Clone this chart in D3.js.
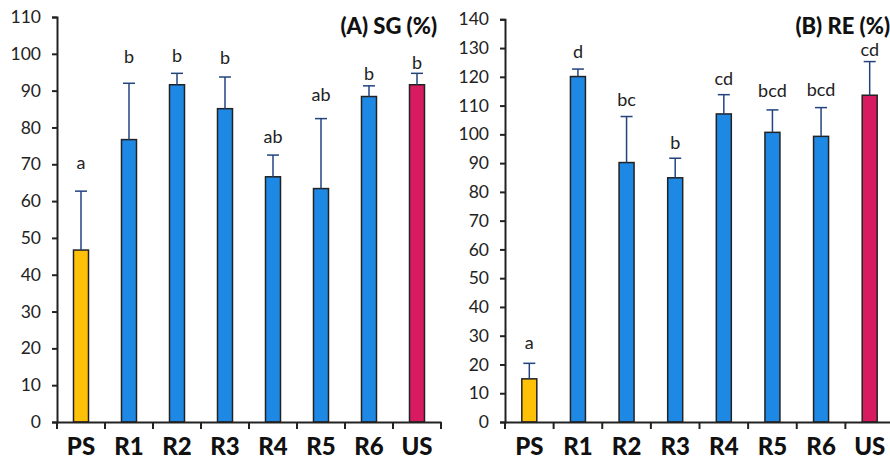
<!DOCTYPE html>
<html>
<head>
<meta charset="utf-8">
<script src="https://cdn.jsdelivr.net/npm/d3@7"></script>
<style>
  html, body { margin: 0; padding: 0; background: #fff; }
  svg { display: block; }
  text { font-family: Lato, "Open Sans", sans-serif; }
</style>
</head>
<body>
<svg id="chart" width="890" height="466"></svg>
<script>
// Treatment groups
const categories = ["PS", "R1", "R2", "R3", "R4", "R5", "R6", "US"];
const groupKind = ["ps", "r", "r", "r", "r", "r", "r", "us"];

// (A) SG (%)
const sgMean = [46.7, 76.7, 91.6, 85.1, 66.6, 63.4, 88.4, 91.6];
const sgError = [16.0, 15.3, 3.1, 8.6, 5.9, 19.0, 2.9, 3.1];
const sgLetters = ["a", "b", "b", "b", "ab", "ab", "b", "b"];
const sgLetterAt = [68.7, 97.4, 97.8, 97.2, 75.8, 87.2, 92.9, 95.9];
const sgTicks = [0, 10, 20, 30, 40, 50, 60, 70, 80, 90, 100, 110];

// (B) RE (%)
const reMean = [15.0, 120.1, 90.2, 84.9, 107.1, 100.7, 99.3, 113.6];
const reError = [5.4, 2.6, 16.0, 6.8, 6.7, 7.8, 10.0, 11.7];
const reLetters = ["a", "d", "bc", "b", "cd", "bcd", "bcd", "cd"];
const reLetterAt = [25.4, 126.7, 109.9, 95.0, 117.2, 112.9, 113.4, 127.3];
const reTicks = [0, 10, 20, 30, 40, 50, 60, 70, 80, 90, 100, 110, 120, 130, 140];

const fills = { ps: "#FFC107", r: "#1E88E5", us: "#D81B60" };
const errColor = "#23437f";

const svg = d3.select("#chart");

function panel(opts) {
  const { x0, x1, yTop, yBottom, yMax, ticks, mean, err, letters, letterAt, title } = opts;
  const g = svg.append("g");

  const x = d3.scaleBand().domain(categories).range([x0, x1]).paddingInner(0).paddingOuter(0);
  const y = d3.scaleLinear().domain([0, yMax]).range([yBottom, yTop]);
  const barW = 15;

  // y axis
  const yAxis = g.append("g")
    .attr("transform", `translate(${x0},0)`)
    .call(d3.axisLeft(y).tickValues(ticks).tickSize(5).tickPadding(11).tickFormat(d3.format("d")));
  yAxis.select(".domain").attr("stroke", "#222").attr("stroke-width", 2);
  yAxis.selectAll(".tick line").attr("stroke", "#222").attr("stroke-width", 2);
  yAxis.selectAll(".tick text").attr("font-size", 17.5).attr("fill", "#222")
    .style("font-family", "Lato, sans-serif");

  // bars
  g.selectAll(".bar").data(categories).join("rect")
    .attr("x", d => x(d) + x.bandwidth() / 2 - barW / 2)
    .attr("width", barW)
    .attr("y", (d, i) => y(mean[i]))
    .attr("height", (d, i) => y(0) - y(mean[i]))
    .attr("fill", (d, i) => fills[groupKind[i]])
    .attr("stroke", "#222")
    .attr("stroke-width", 1.5);

  // error bars (upper only)
  const eb = g.selectAll(".err").data(categories).join("g");
  eb.append("line")
    .attr("x1", d => x(d) + x.bandwidth() / 2)
    .attr("x2", d => x(d) + x.bandwidth() / 2)
    .attr("y1", (d, i) => y(mean[i]))
    .attr("y2", (d, i) => y(mean[i] + err[i]))
    .attr("stroke", errColor).attr("stroke-width", 1.5);
  eb.append("line")
    .attr("x1", d => x(d) + x.bandwidth() / 2 - 6)
    .attr("x2", d => x(d) + x.bandwidth() / 2 + 6)
    .attr("y1", (d, i) => y(mean[i] + err[i]))
    .attr("y2", (d, i) => y(mean[i] + err[i]))
    .attr("stroke", errColor).attr("stroke-width", 1.5);

  // significance letters
  g.selectAll(".letter").data(categories).join("text")
    .attr("x", d => x(d) + x.bandwidth() / 2)
    .attr("y", (d, i) => y(letterAt[i]))
    .attr("text-anchor", "middle")
    .attr("font-size", 18)
    .attr("fill", "#222")
    .text((d, i) => letters[i]);

  // x axis
  const xAxis = g.append("g")
    .attr("transform", `translate(0,${yBottom})`)
    .call(d3.axisBottom(x).tickSize(0).tickPadding(16));
  xAxis.select(".domain").attr("stroke", "#222").attr("stroke-width", 2);
  xAxis.selectAll(".tick text").attr("font-size", 24).attr("font-weight", 900).attr("fill", "#111")
    .style("font-family", "Lato, sans-serif");
  // category separators
  const bounds = categories.map(c => x(c)).concat([x1]);
  xAxis.selectAll(".sep").data(bounds).join("line")
    .attr("x1", d => d).attr("x2", d => d)
    .attr("y1", 0).attr("y2", 7)
    .attr("stroke", "#222").attr("stroke-width", 2);

  // panel title
  g.append("text")
    .attr("x", opts.titleX)
    .attr("y", 34)
    .attr("text-anchor", "end")
    .attr("font-size", 22)
    .attr("font-weight", 900)
    .attr("fill", "#111")
    .text(title);
}

panel({
  x0: 57, x1: 441, yTop: 17, yBottom: 422, yMax: 110, ticks: sgTicks,
  mean: sgMean, err: sgError, letters: sgLetters, letterAt: sgLetterAt,
  title: "(A) SG (%)", titleX: 437
});

panel({
  x0: 505, x1: 894, yTop: 19.3, yBottom: 422, yMax: 140, ticks: reTicks,
  mean: reMean, err: reError, letters: reLetters, letterAt: reLetterAt,
  title: "(B) RE (%)", titleX: 890
});
</script>
</body>
</html>
